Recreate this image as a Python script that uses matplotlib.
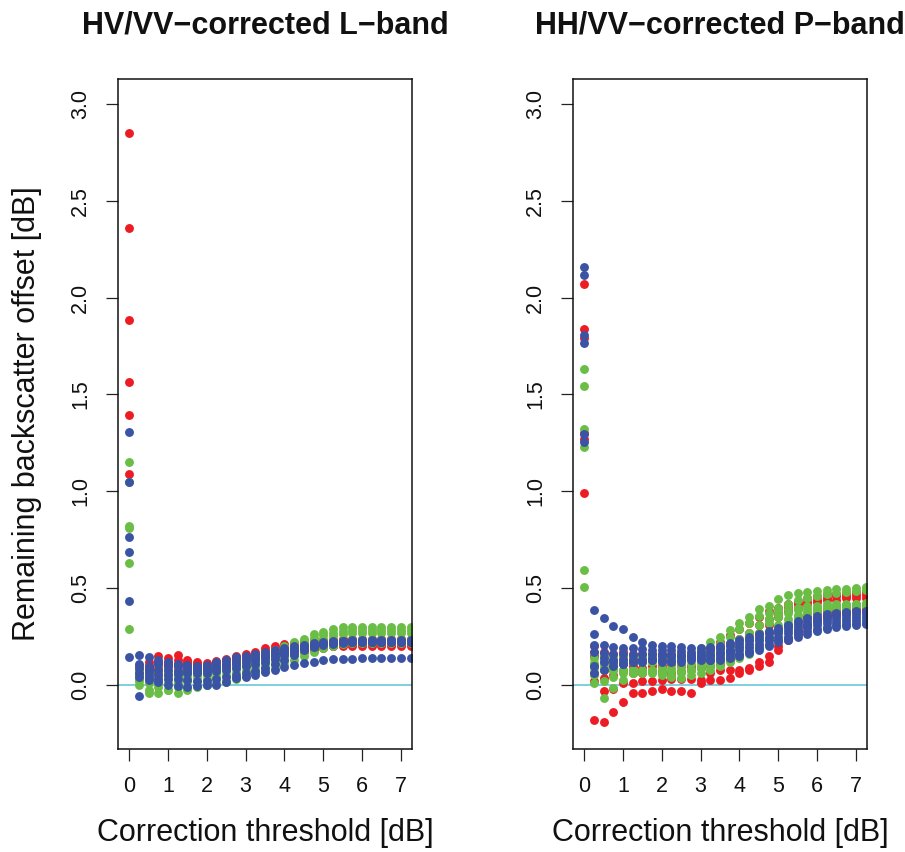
import matplotlib
matplotlib.use('Agg')
import matplotlib.pyplot as plt

plt.rcParams['font.family'] = ['Liberation Sans', 'DejaVu Sans']

# ---------------- data ----------------
thresholds = [0, 0.25, 0.5, 0.75, 1.0, 1.25, 1.5, 1.75, 2.0, 2.25, 2.5, 2.75, 3.0, 3.25, 3.5,
              3.75, 4.0, 4.25, 4.5, 4.75, 5.0, 5.25, 5.5, 5.75, 6.0, 6.25, 6.5, 6.75, 7.0, 7.25]

titles = ["HV/VV\u2212corrected L\u2212band", "HH/VV\u2212corrected P\u2212band"]
x_ticks = [0, 1, 2, 3, 4, 5, 6, 7]
y_ticks = [0.0, 0.5, 1.0, 1.5, 2.0, 2.5, 3.0]
y_tick_labels = ["0.0", "0.5", "1.0", "1.5", "2.0", "2.5", "3.0"]

# L-band panel
L_red = [
    [2.85, 0.10, 0.12, 0.15, 0.14, 0.155, 0.13, 0.12, 0.115, 0.125, 0.137, 0.15, 0.16, 0.172, 0.189,
     0.20, 0.21, 0.215, 0.22, 0.225, 0.23, 0.235, 0.24, 0.24, 0.24, 0.24, 0.24, 0.24, 0.24, 0.24],
    [2.36, 0.07, 0.09, 0.12, 0.12, 0.13, 0.12, 0.11, 0.105, 0.115, 0.125, 0.14, 0.15, 0.16, 0.175,
     0.185, 0.195, 0.20, 0.205, 0.21, 0.21, 0.21, 0.21, 0.21, 0.21, 0.21, 0.21, 0.21, 0.21, 0.21],
    [1.885, 0.06, 0.07, 0.09, 0.10, 0.10, 0.09, 0.09, 0.09, 0.10, 0.11, 0.12, 0.13, 0.14, 0.155,
     0.165, 0.175, 0.185, 0.19, 0.195, 0.20, 0.20, 0.20, 0.20, 0.20, 0.20, 0.20, 0.20, 0.20, 0.20],
    [1.565, 0.05, 0.055, 0.07, 0.075, 0.08, 0.08, 0.08, 0.08, 0.09, 0.10, 0.11, 0.12, 0.13, 0.14,
     0.15, 0.16, 0.17, 0.18, 0.19, 0.20, 0.205, 0.21, 0.21, 0.21, 0.21, 0.21, 0.21, 0.21, 0.21],
    [1.395, 0.08, 0.06, 0.06, 0.06, 0.06, 0.06, 0.06, 0.065, 0.075, 0.085, 0.095, 0.105, 0.12, 0.13,
     0.14, 0.15, 0.16, 0.17, 0.18, 0.19, 0.20, 0.205, 0.21, 0.21, 0.21, 0.21, 0.21, 0.21, 0.21],
    [1.09, 0.09, 0.10, 0.11, 0.11, 0.11, 0.11, 0.10, 0.10, 0.11, 0.12, 0.13, 0.14, 0.15, 0.16,
     0.17, 0.18, 0.19, 0.195, 0.20, 0.205, 0.21, 0.215, 0.22, 0.22, 0.22, 0.22, 0.22, 0.22, 0.22],
]
L_green = [
    [1.15, 0.09, 0.06, 0.08, 0.07, 0.07, 0.07, 0.08, 0.09, 0.10, 0.11, 0.12, 0.135, 0.15, 0.165,
     0.18, 0.20, 0.22, 0.24, 0.263, 0.275, 0.287, 0.299, 0.30, 0.30, 0.30, 0.30, 0.30, 0.30, 0.30],
    [0.82, 0.07, 0.05, 0.05, 0.05, 0.05, 0.05, 0.055, 0.06, 0.07, 0.08, 0.095, 0.11, 0.12, 0.13,
     0.15, 0.17, 0.20, 0.22, 0.245, 0.26, 0.27, 0.28, 0.285, 0.285, 0.285, 0.285, 0.285, 0.285, 0.285],
    [0.81, 0.05, 0.03, 0.03, 0.03, 0.03, 0.035, 0.04, 0.05, 0.06, 0.075, 0.09, 0.10, 0.11, 0.12,
     0.135, 0.155, 0.18, 0.20, 0.225, 0.24, 0.255, 0.265, 0.27, 0.27, 0.27, 0.27, 0.27, 0.27, 0.27],
    [0.628, 0.03, 0.01, 0.01, 0.01, 0.01, 0.02, 0.02, 0.03, 0.04, 0.05, 0.065, 0.08, 0.095, 0.11,
     0.13, 0.15, 0.17, 0.19, 0.205, 0.215, 0.22, 0.225, 0.23, 0.23, 0.23, 0.23, 0.23, 0.23, 0.23],
    [0.29, 0.0, -0.026, -0.01, -0.026, -0.01, -0.01, -0.005, 0.0, 0.01, 0.02, 0.035, 0.05, 0.07, 0.09,
     0.11, 0.13, 0.155, 0.175, 0.195, 0.205, 0.21, 0.215, 0.22, 0.22, 0.22, 0.22, 0.22, 0.22, 0.22],
    [1.05, 0.02, -0.043, -0.043, -0.026, -0.043, -0.026, -0.01, 0.0, 0.005, 0.015, 0.03, 0.045, 0.06, 0.075,
     0.09, 0.11, 0.13, 0.15, 0.17, 0.19, 0.20, 0.21, 0.215, 0.215, 0.215, 0.215, 0.215, 0.215, 0.215],
]
L_blue = [
    [1.305, 0.153, 0.146, 0.13, 0.12, 0.11, 0.105, 0.10, 0.103, 0.12, 0.13, 0.145, 0.15, 0.16, 0.17,
     0.18, 0.19, 0.20, 0.205, 0.215, 0.22, 0.225, 0.228, 0.23, 0.23, 0.23, 0.23, 0.23, 0.23, 0.23],
    [1.047, 0.11, 0.10, 0.11, 0.10, 0.10, 0.09, 0.09, 0.09, 0.10, 0.11, 0.125, 0.135, 0.145, 0.155,
     0.165, 0.175, 0.185, 0.195, 0.205, 0.215, 0.22, 0.225, 0.225, 0.225, 0.225, 0.225, 0.225, 0.225, 0.225],
    [0.763, 0.086, 0.08, 0.08, 0.08, 0.075, 0.075, 0.075, 0.08, 0.09, 0.10, 0.11, 0.12, 0.13, 0.14,
     0.15, 0.165, 0.175, 0.185, 0.195, 0.205, 0.21, 0.215, 0.22, 0.22, 0.22, 0.22, 0.22, 0.22, 0.22],
    [0.688, 0.06, 0.06, 0.05, 0.05, 0.055, 0.06, 0.06, 0.06, 0.07, 0.08, 0.09, 0.10, 0.11, 0.12,
     0.135, 0.155, 0.17, 0.185, 0.20, 0.21, 0.215, 0.22, 0.22, 0.22, 0.22, 0.22, 0.22, 0.22, 0.22],
    [0.432, 0.043, 0.043, 0.03, 0.03, 0.03, 0.025, 0.02, 0.02, 0.03, 0.04, 0.05, 0.06, 0.075, 0.09,
     0.11, 0.13, 0.155, 0.18, 0.20, 0.21, 0.215, 0.22, 0.22, 0.22, 0.22, 0.22, 0.22, 0.22, 0.22],
    [0.143, -0.057, 0.025, 0.017, 0.0, -0.005, -0.009, -0.005, 0.0, 0.0, 0.017, 0.034, 0.043, 0.052, 0.069,
     0.077, 0.095, 0.103, 0.112, 0.12, 0.129, 0.132, 0.134, 0.137, 0.139, 0.139, 0.139, 0.139, 0.139, 0.139],
]

# P-band panel
P_red = [
    [0.989, -0.18, -0.189, -0.138, -0.086, -0.043, -0.043, -0.03, -0.02, -0.03, -0.03, -0.04, 0.01, 0.026, 0.026,
     0.034, 0.06, 0.08, 0.10, 0.12, 0.18, 0.23, 0.27, 0.30, 0.33, 0.35, 0.36, 0.37, 0.38, 0.38],
    [1.27, 0.02, -0.03, -0.02, 0.01, 0.01, 0.02, 0.02, 0.026, 0.03, 0.03, 0.03, 0.026, 0.06, 0.077,
     0.077, 0.077, 0.09, 0.12, 0.15, 0.20, 0.24, 0.28, 0.31, 0.34, 0.36, 0.37, 0.38, 0.39, 0.39],
    [1.30, 0.06, 0.034, 0.05, 0.07, 0.06, 0.06, 0.07, 0.07, 0.06, 0.07, 0.08, 0.09, 0.10, 0.11,
     0.13, 0.15, 0.17, 0.20, 0.24, 0.28, 0.31, 0.33, 0.35, 0.37, 0.38, 0.385, 0.39, 0.39, 0.39],
    [1.79, 0.10, 0.08, 0.10, 0.12, 0.10, 0.09, 0.10, 0.10, 0.11, 0.10, 0.10, 0.12, 0.13, 0.15,
     0.17, 0.20, 0.23, 0.27, 0.31, 0.35, 0.38, 0.40, 0.42, 0.43, 0.44, 0.44, 0.45, 0.45, 0.45],
    [1.84, 0.15, 0.12, 0.13, 0.14, 0.14, 0.13, 0.13, 0.14, 0.15, 0.15, 0.14, 0.15, 0.17, 0.19,
     0.21, 0.24, 0.27, 0.31, 0.34, 0.37, 0.40, 0.42, 0.43, 0.44, 0.45, 0.46, 0.46, 0.465, 0.465],
    [2.072, 0.20, 0.17, 0.16, 0.17, 0.16, 0.16, 0.16, 0.16, 0.16, 0.16, 0.16, 0.17, 0.19, 0.22,
     0.26, 0.29, 0.32, 0.35, 0.38, 0.40, 0.42, 0.43, 0.45, 0.46, 0.47, 0.47, 0.475, 0.48, 0.48],
]
P_green = [
    [1.633, 0.17, 0.15, 0.15, 0.15, 0.15, 0.15, 0.15, 0.14, 0.14, 0.15, 0.16, 0.19, 0.22, 0.25,
     0.285, 0.318, 0.353, 0.39, 0.41, 0.446, 0.464, 0.473, 0.48, 0.485, 0.49, 0.495, 0.498, 0.50, 0.507],
    [1.544, 0.14, 0.12, 0.12, 0.12, 0.12, 0.12, 0.12, 0.12, 0.12, 0.13, 0.14, 0.15, 0.17, 0.21,
     0.25, 0.29, 0.32, 0.355, 0.37, 0.40, 0.42, 0.44, 0.45, 0.46, 0.47, 0.475, 0.48, 0.485, 0.49],
    [1.319, 0.112, 0.10, 0.08, 0.08, 0.08, 0.08, 0.08, 0.09, 0.09, 0.10, 0.11, 0.12, 0.14, 0.17,
     0.21, 0.24, 0.27, 0.31, 0.34, 0.37, 0.39, 0.40, 0.41, 0.41, 0.42, 0.42, 0.42, 0.42, 0.425],
    [1.229, 0.09, 0.077, 0.077, 0.077, 0.08, 0.075, 0.07, 0.07, 0.07, 0.07, 0.08, 0.10, 0.12, 0.15,
     0.18, 0.21, 0.24, 0.27, 0.32, 0.35, 0.37, 0.385, 0.395, 0.40, 0.41, 0.41, 0.415, 0.42, 0.42],
    [0.593, 0.05, 0.02, 0.04, 0.06, 0.06, 0.06, 0.07, 0.06, 0.05, 0.06, 0.08, 0.09, 0.10, 0.12,
     0.14, 0.16, 0.19, 0.23, 0.27, 0.31, 0.34, 0.36, 0.37, 0.38, 0.39, 0.40, 0.40, 0.41, 0.41],
    [0.507, 0.009, -0.066, -0.017, 0.026, 0.06, 0.07, 0.06, 0.05, 0.04, 0.035, 0.05, 0.06, 0.08, 0.10,
     0.12, 0.14, 0.16, 0.20, 0.24, 0.28, 0.32, 0.35, 0.37, 0.38, 0.39, 0.40, 0.40, 0.41, 0.41],
]
P_blue = [
    [2.157, 0.387, 0.344, 0.304, 0.287, 0.249, 0.223, 0.206, 0.20, 0.20, 0.195, 0.19, 0.19, 0.195, 0.20,
     0.215, 0.235, 0.25, 0.265, 0.28, 0.295, 0.31, 0.33, 0.345, 0.355, 0.365, 0.37, 0.375, 0.38, 0.38],
    [2.114, 0.266, 0.206, 0.197, 0.19, 0.19, 0.185, 0.18, 0.18, 0.18, 0.175, 0.17, 0.17, 0.18, 0.19,
     0.20, 0.215, 0.23, 0.25, 0.27, 0.285, 0.30, 0.315, 0.33, 0.34, 0.35, 0.355, 0.36, 0.365, 0.365],
    [1.805, 0.206, 0.163, 0.16, 0.16, 0.155, 0.16, 0.16, 0.16, 0.155, 0.15, 0.15, 0.155, 0.16, 0.17,
     0.18, 0.195, 0.21, 0.23, 0.25, 0.27, 0.285, 0.30, 0.315, 0.325, 0.335, 0.34, 0.345, 0.35, 0.35],
    [1.765, 0.17, 0.14, 0.13, 0.13, 0.13, 0.13, 0.13, 0.13, 0.13, 0.13, 0.135, 0.14, 0.15, 0.16,
     0.17, 0.18, 0.195, 0.21, 0.23, 0.25, 0.27, 0.285, 0.30, 0.31, 0.32, 0.325, 0.33, 0.335, 0.335],
    [1.298, 0.10, 0.12, 0.12, 0.11, 0.12, 0.12, 0.13, 0.12, 0.12, 0.12, 0.13, 0.13, 0.13, 0.14,
     0.155, 0.16, 0.175, 0.19, 0.21, 0.23, 0.25, 0.265, 0.28, 0.29, 0.30, 0.31, 0.315, 0.32, 0.32],
    [1.255, 0.06, 0.08, 0.10, 0.11, 0.12, 0.13, 0.14, 0.15, 0.15, 0.15, 0.15, 0.14, 0.13, 0.13,
     0.14, 0.15, 0.165, 0.18, 0.20, 0.22, 0.235, 0.25, 0.265, 0.28, 0.29, 0.30, 0.305, 0.31, 0.315],
]

panels = [(L_red, L_green, L_blue), (P_red, P_green, P_blue)]
colors = ['#EC1C24', '#6ABD45', '#3A53A4']

# ---------------- layout ----------------
W, H = 905, 852
fig = plt.figure(figsize=(W / 100, H / 100), dpi=100)
ax_left_px = [118.3, 573.3]
ax_w_px = 293.4
ax_top_px, ax_bot_px = 79.0, 748.6

for i, series_sets in enumerate(panels):
    ax = fig.add_axes([ax_left_px[i] / W, 1 - ax_bot_px / H, ax_w_px / W, (ax_bot_px - ax_top_px) / H])
    ax.axhline(0, color='#7ECFE0', lw=1.4, zorder=1)
    for color, group in zip(colors, series_sets):
        for ys in group:
            ax.plot(thresholds, ys, 'o', color=color, ms=6.4, mew=0, linestyle='none', zorder=2)
    ax.set_xlim(-0.28, 7.28)
    ax.set_ylim(-0.328, 3.128)
    ax.set_xticks(x_ticks)
    ax.set_xticklabels([str(t) for t in x_ticks])
    ax.set_yticks(y_ticks)
    ax.set_yticklabels(y_tick_labels, rotation=90, va='center')
    ax.tick_params(axis='both', direction='out', length=8.6, width=0.9, labelsize=15.5,
                   color='#222222', labelcolor='#111111')
    ax.tick_params(axis='x', pad=11)
    ax.tick_params(axis='y', pad=11)
    for sp in ax.spines.values():
        sp.set_linewidth(1.1)
        sp.set_color('#111111')
    cx = (ax_left_px[i] + ax_w_px / 2) / W
    fig.text(cx, 1 - 25 / H, titles[i], ha='center', va='center', fontsize=22,
             fontweight='bold', color='#111111')
    fig.text(cx, 1 - 833 / H, "Correction threshold [dB]", ha='center', va='center',
             fontsize=22, color='#111111')

fig.text(27 / W, 1 - 414 / H, "Remaining backscatter offset [dB]", rotation=90,
         ha='center', va='center', fontsize=22, color='#111111')

fig.savefig('out.png', dpi=100)
